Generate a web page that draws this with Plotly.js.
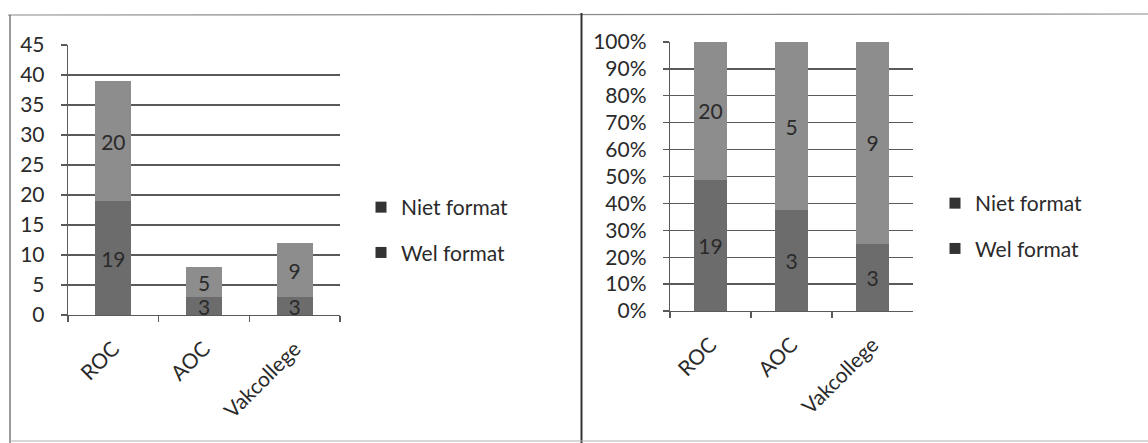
<!DOCTYPE html>
<html>
<head>
<meta charset="utf-8">
<script src="https://cdn.plot.ly/plotly-3.0.1.min.js"></script>
<style>
  html, body { margin: 0; padding: 0; background: #fff; }
  #chart { width: 1148px; height: 443px; }
</style>
</head>
<body>
<div id="chart"></div>
<script>
// ---- data ----
const categories = ['ROC', 'AOC', 'Vakcollege'];
const welFormat = [19, 3, 3];
const nietFormat = [20, 5, 9];
const seriesNames = ['Niet format', 'Wel format'];

// percentage shares for the 100% stacked chart
const totals = categories.map((c, i) => welFormat[i] + nietFormat[i]);
const welPct = welFormat.map((v, i) => v / totals[i] * 100);
const nietPct = nietFormat.map((v, i) => v / totals[i] * 100);

const W = 1148, H = 443;
const FONT = 'Lato, "Open Sans", sans-serif';
const colNiet = '#8d8d8d';
const colWel = '#6c6c6c';
const gridCol = '#5a5a5a';
const txtCol = '#2a2a2a';

function px(x) { return x / W; }
function py(y) { return 1 - y / H; }

const barText = { family: FONT, size: 21, color: txtCol };

const traces = [
  // left chart (absolute)
  { type: 'bar', x: categories, y: welFormat, text: welFormat.map(String), name: seriesNames[1],
    marker: { color: colWel }, textposition: 'inside', insidetextanchor: 'middle', textangle: 0,
    textfont: barText, xaxis: 'x', yaxis: 'y', showlegend: false, hoverinfo: 'skip' },
  { type: 'bar', x: categories, y: nietFormat, text: nietFormat.map(String), name: seriesNames[0],
    marker: { color: colNiet }, textposition: 'inside', insidetextanchor: 'middle', textangle: 0,
    textfont: barText, xaxis: 'x', yaxis: 'y', showlegend: false, hoverinfo: 'skip' },
  // right chart (100% stacked)
  { type: 'bar', x: categories, y: welPct, text: welFormat.map(String), name: seriesNames[1],
    marker: { color: colWel }, textposition: 'inside', insidetextanchor: 'middle', textangle: 0,
    textfont: barText, xaxis: 'x2', yaxis: 'y2', showlegend: false, hoverinfo: 'skip' },
  { type: 'bar', x: categories, y: nietPct, text: nietFormat.map(String), name: seriesNames[0],
    marker: { color: colNiet }, textposition: 'inside', insidetextanchor: 'middle', textangle: 0,
    textfont: barText, xaxis: 'x2', yaxis: 'y2', showlegend: false, hoverinfo: 'skip' },
  // legend entries (dark square markers, as in the original)
  { type: 'scatter', mode: 'markers', x: [null], y: [null], name: seriesNames[0], legendgroup: 'a',
    marker: { symbol: 'square', size: 11, color: '#333' }, xaxis: 'x', yaxis: 'y', legend: 'legend' },
  { type: 'scatter', mode: 'markers', x: [null], y: [null], name: seriesNames[1], legendgroup: 'b',
    marker: { symbol: 'square', size: 11, color: '#333' }, xaxis: 'x', yaxis: 'y', legend: 'legend' },
  { type: 'scatter', mode: 'markers', x: [null], y: [null], name: seriesNames[0], legendgroup: 'c',
    marker: { symbol: 'square', size: 11, color: '#333' }, xaxis: 'x2', yaxis: 'y2', legend: 'legend2' },
  { type: 'scatter', mode: 'markers', x: [null], y: [null], name: seriesNames[1], legendgroup: 'd',
    marker: { symbol: 'square', size: 11, color: '#333' }, xaxis: 'x2', yaxis: 'y2', legend: 'legend2' }
];

const tickFont = { family: FONT, size: 21, color: txtCol };

function yAxis(domain, range, dtick, suffix) {
  return {
    domain: domain, range: range, dtick: dtick, tick0: 0, ticksuffix: suffix || '',
    showgrid: true, gridcolor: gridCol, gridwidth: 1.3,
    zeroline: false, showline: true, linecolor: gridCol, linewidth: 1.3,
    ticks: 'outside', ticklen: 6, tickcolor: gridCol, tickwidth: 1.3,
    ticklabelstandoff: 12, tickfont: tickFont, fixedrange: true, automargin: false
  };
}
function xAxis(domain, anchor) {
  return {
    domain: domain, anchor: anchor, type: 'category',
    showline: true, linecolor: gridCol, linewidth: 1.3,
    ticks: 'outside', tickson: 'boundaries', ticklen: 6, tickcolor: gridCol, tickwidth: 1.3,
    tickangle: -45, tickfont: tickFont, ticklabelstandoff: 12,
    fixedrange: true, automargin: false
  };
}

const legendBase = {
  font: { family: FONT, size: 21, color: txtCol },
  bgcolor: 'rgba(0,0,0,0)', traceorder: 'grouped', tracegroupgap: 15,
  xanchor: 'left', yanchor: 'top', itemclick: false, itemdoubleclick: false
};

const layout = {
  width: W, height: H,
  margin: { l: 0, r: 0, t: 0, b: 0 },
  paper_bgcolor: '#fff', plot_bgcolor: '#fff',
  barmode: 'stack', bargap: 0.6,
  uniformtext: { mode: 'show', minsize: 21 },
  xaxis: xAxis([px(68), px(340)], 'y'),
  yaxis: yAxis([py(315), py(45)], [0, 45], 5),
  xaxis2: xAxis([px(670), px(913)], 'y2'),
  yaxis2: yAxis([py(311), py(42)], [0, 100], 10, '%'),
  legend: Object.assign({}, legendBase, { x: px(361), y: py(187) }),
  legend2: Object.assign({}, legendBase, { x: px(935), y: py(183) }),
  shapes: [
    { type: 'line', xref: 'paper', yref: 'paper', x0: px(8), x1: 1, y0: py(15), y1: py(14),
      line: { color: '#8a8a8a', width: 1.2 } },
    { type: 'line', xref: 'paper', yref: 'paper', x0: px(10), x1: px(10), y0: py(15), y1: 0,
      line: { color: '#555', width: 1.2 } },
    { type: 'line', xref: 'paper', yref: 'paper', x0: px(581.5), x1: px(581.5), y0: py(13), y1: 0,
      line: { color: '#333', width: 2 } },
    { type: 'line', xref: 'paper', yref: 'paper', x0: px(10), x1: 1, y0: py(441), y1: py(441),
      line: { color: '#b0b0b0', width: 1 } }
  ],
  showlegend: true
};
layout.yaxis.anchor = 'x';
layout.yaxis2.anchor = 'x2';

Plotly.newPlot('chart', traces, layout, { displayModeBar: false, staticPlot: true });
</script>
</body>
</html>
